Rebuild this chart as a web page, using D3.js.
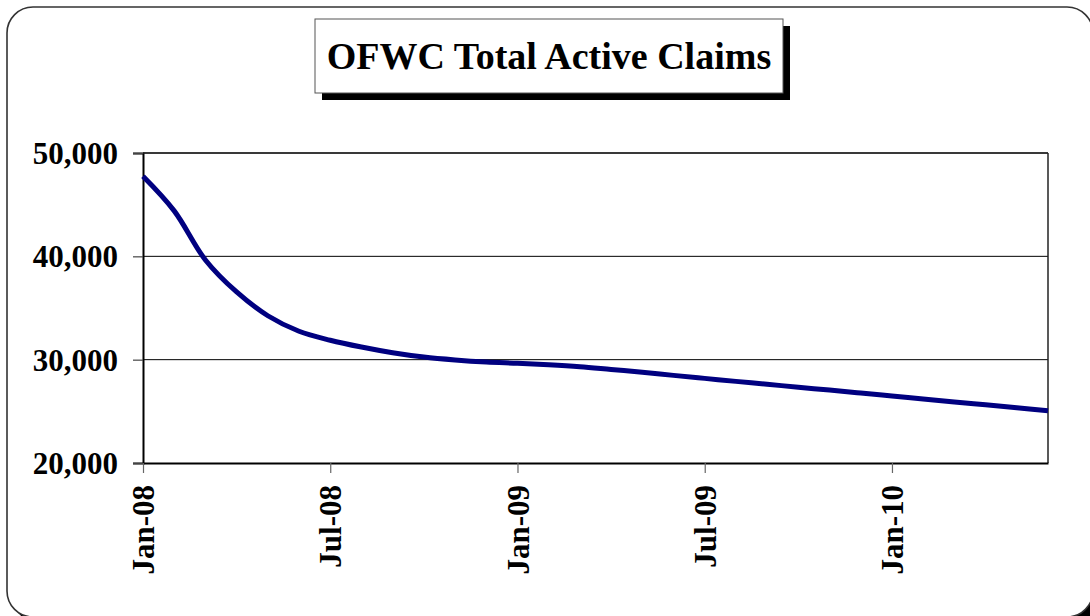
<!DOCTYPE html>
<html>
<head>
<meta charset="utf-8">
<script src="https://cdn.jsdelivr.net/npm/d3@7"></script>
<style>
  html, body { margin: 0; padding: 0; background: #fff; overflow: hidden; }
  svg { display: block; }
  text { font-family: "Liberation Serif", "Times New Roman", serif; font-weight: bold; fill: #000; }
</style>
</head>
<body>
<svg id="chart" width="1090" height="616"></svg>
<script>
// monthly active claims, Jan-08 .. Jun-10
const months = ['Jan-08','Feb-08','Mar-08','Apr-08','May-08','Jun-08','Jul-08','Aug-08','Sep-08','Oct-08','Nov-08','Dec-08',
  'Jan-09','Feb-09','Mar-09','Apr-09','May-09','Jun-09','Jul-09','Aug-09','Sep-09','Oct-09','Nov-09','Dec-09',
  'Jan-10','Feb-10','Mar-10','Apr-10','May-10','Jun-10']
const claims = [47750, 44400, 39650, 36550, 34250, 32750, 31880, 31220, 30670, 30250, 29970, 29770,
  29650, 29510, 29320, 29050, 28780, 28480, 28190, 27900, 27620, 27330, 27060, 26770,
  26480, 26200, 25910, 25630, 25340, 25050]
const yTicks = [20000, 30000, 40000, 50000]
const xTickLabels = ['Jan-08', 'Jul-08', 'Jan-09', 'Jul-09', 'Jan-10']
const title = 'OFWC Total Active Claims'

const svg = d3.select('#chart')
const plot = { left: 143, right: 1048, top: 153, bottom: 463 }

// outer frame + shadow
const frame = { x: 7, y: 7, w: 1086, h: 610, r: 26 }
svg.append('rect')
  .attr('x', frame.x + 6).attr('y', frame.y + 6).attr('width', frame.w).attr('height', frame.h)
  .attr('rx', frame.r).attr('fill', '#000')
svg.append('rect')
  .attr('x', frame.x).attr('y', frame.y).attr('width', frame.w).attr('height', frame.h)
  .attr('rx', frame.r).attr('fill', '#fff')
  .attr('stroke', '#333').attr('stroke-width', 1.6)

// title box
const tb = { x: 315, y: 19, w: 468, h: 74 }
svg.append('rect')
  .attr('x', tb.x + 7).attr('y', tb.y + 7).attr('width', tb.w).attr('height', tb.h)
  .attr('fill', '#000')
svg.append('rect')
  .attr('x', tb.x).attr('y', tb.y).attr('width', tb.w).attr('height', tb.h)
  .attr('fill', '#fff').attr('stroke', '#555').attr('stroke-width', 1)
svg.append('text')
  .attr('x', tb.x + tb.w / 2).attr('y', 69)
  .attr('text-anchor', 'middle')
  .attr('font-size', 38)
  .text(title)

const x = d3.scalePoint()
  .domain(months)
  .range([plot.left, plot.right])

const y = d3.scaleLinear()
  .domain([20000, 50000])
  .range([plot.bottom, plot.top])

// gridlines
svg.append('g')
  .attr('class', 'grid')
  .selectAll('line')
  .data(yTicks.slice(1))
  .enter()
  .append('line')
  .attr('x1', plot.left).attr('x2', plot.right)
  .attr('y1', (d) => y(d)).attr('y2', (d) => y(d))
  .attr('stroke', '#000').attr('stroke-width', 1)

// plot border right side
svg.append('line')
  .attr('x1', plot.right).attr('x2', plot.right)
  .attr('y1', plot.top).attr('y2', plot.bottom)
  .attr('stroke', '#222').attr('stroke-width', 1.5)

// y axis
const yAxis = svg.append('g')
  .attr('transform', `translate(${plot.left},0)`)
  .call(d3.axisLeft(y).tickValues(yTicks).tickSize(10).tickPadding(15).tickFormat(d3.format(',')))
yAxis.select('.domain').attr('stroke', '#000').attr('stroke-width', 2)
yAxis.selectAll('.tick line').attr('stroke', '#444').attr('stroke-width', 1.2)
yAxis.selectAll('.tick text')
  .attr('font-size', 31)
  .attr('font-family', '"Liberation Serif", serif')
  .attr('dy', '0.34em')

// x axis
const xAxis = svg.append('g')
  .attr('transform', `translate(0,${plot.bottom})`)
  .call(d3.axisBottom(x).tickValues(xTickLabels).tickSize(10).tickSizeOuter(0))
xAxis.select('.domain').attr('stroke', '#000').attr('stroke-width', 2)
xAxis.selectAll('.tick line').attr('stroke', '#666').attr('stroke-width', 1.2)
xAxis.selectAll('.tick text')
  .attr('font-size', 31)
  .attr('font-family', '"Liberation Serif", serif')
  .attr('text-anchor', 'end')
  .attr('transform', 'rotate(-90)')
  .attr('x', -22)
  .attr('y', 0)
  .attr('dy', '0.34em')

// top border of plot
svg.append('line')
  .attr('x1', plot.left).attr('x2', plot.right)
  .attr('y1', plot.top).attr('y2', plot.top)
  .attr('stroke', '#222').attr('stroke-width', 1.5)

// claims line
const line = d3.line()
  .x((d, i) => x(months[i]))
  .y((d) => y(d))
  .curve(d3.curveCatmullRom.alpha(0.5))

svg.append('path')
  .datum(claims)
  .attr('d', line)
  .attr('fill', 'none')
  .attr('stroke', '#000080')
  .attr('stroke-width', 5)
</script>
</body>
</html>
